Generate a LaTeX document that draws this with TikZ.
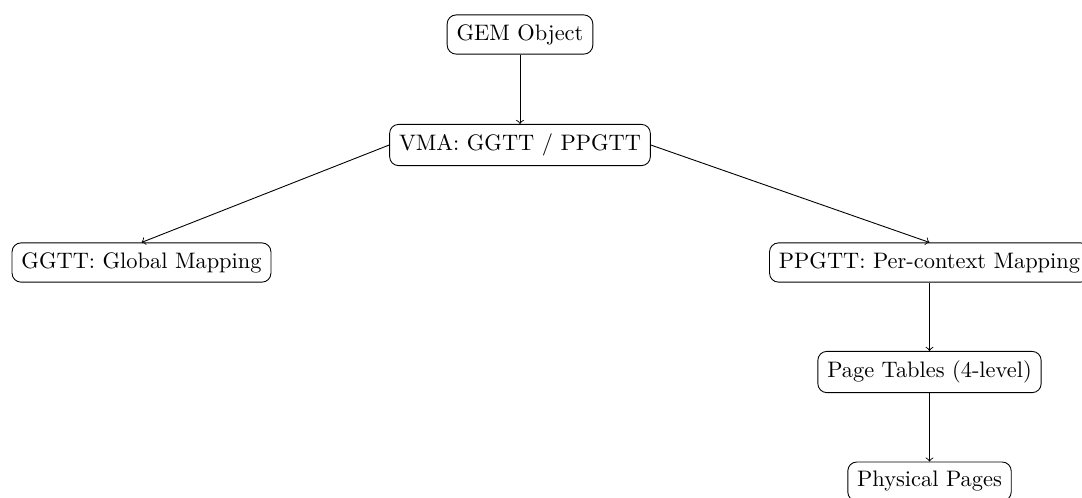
\documentclass[tikz,border=0pt]{standalone}
\usetikzlibrary{arrows}
\begin{document}
\begin{tikzpicture}[x=0.44643pt,y=-0.44643pt,
  box/.style={draw,rounded corners=4pt,inner sep=4.2pt,font=\normalsize},
  link/.style={->}]
  \useasboundingbox (0,0) rectangle (1082,497);
  \node[box] (gem)  at (520,34.5)  {GEM Object};
  \node[box] (vma)  at (520,145)   {VMA: GGTT / PPGTT};
  \node[box] (ggtt) at (141.5,262.5) {GGTT: Global Mapping};
  \node[box] (ppgtt) at (929.5,262.5) {PPGTT: Per-context Mapping};
  \node[box] (pt)   at (929.5,372)   {Page Tables (4-level)};
  \node[box] (phys) at (929.5,481.5) {Physical Pages};
  \draw[link] (gem) -- (vma);
  \draw[link] (vma.west) -- (ggtt.north);
  \draw[link] (vma.east) -- (ppgtt.north);
  \draw[link] (ppgtt) -- (pt);
  \draw[link] (pt) -- (phys);
\end{tikzpicture}
\end{document}
